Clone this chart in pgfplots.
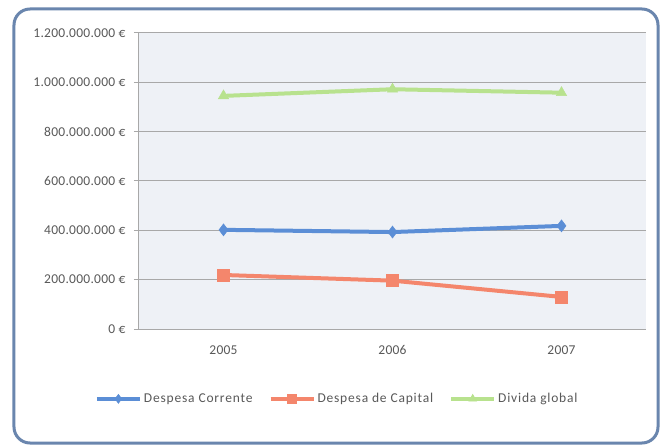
\documentclass[border=0pt]{standalone}
\usepackage{fontspec}
\setmainfont{Carlito}
\usepackage{pgfplots}
\pgfplotsset{compat=1.18}
\definecolor{frameblue}{HTML}{6A86AE}
\definecolor{plotbg}{HTML}{EEF1F6}
\definecolor{gridgrey}{HTML}{A8A8A8}
\definecolor{serblue}{HTML}{5B8ED6}
\definecolor{serorange}{HTML}{F4866C}
\definecolor{sergreen}{HTML}{B8E28E}
\definecolor{ticktext}{HTML}{595959}

\begin{document}
\begin{tikzpicture}[x=1pt,y=1pt]
\useasboundingbox (-139,-118) rectangle (528,329);
\fill[white] (-139,-118) rectangle (528,329);
\draw[frameblue, line width=3pt, rounded corners=16pt] (-125,-114) rectangle (519,320);
\begin{axis}[
    at={(0pt,0pt)}, anchor=south west,
    scale only axis,
    width=507pt, height=296pt,
    xmin=-0.5, xmax=2.5,
    ymin=0, ymax=1.2e9,
    scaled y ticks=false,
    xtick={0,1,2},
    xticklabels={2005,2006,2007},
    minor xtick={0.5,1.5},
    ytick={0,2e8,4e8,6e8,8e8,1e9,1.2e9},
    yticklabels={0 €,200.000.000 €,400.000.000 €,600.000.000 €,800.000.000 €,1.000.000.000 €,1.200.000.000 €},
    axis x line*=bottom,
    axis y line*=left,
    axis line style={gridgrey, line width=1pt, -},
    tick align=outside,
    major tick length=5pt,
    minor tick length=4pt,
    tick style={gridgrey, line width=1pt},
    xtick style={draw=none},
    minor x tick style={gridgrey, line width=1pt},
    ymajorgrids=true,
    grid style={gridgrey, line width=1pt},
    axis background/.style={fill=plotbg},
    ticklabel style={font=\fontsize{13.5}{15}\selectfont\addfontfeatures{LetterSpace=2}, text=ticktext},
    yticklabel style={xshift=-5pt},
    xticklabel style={yshift=-8pt},
    legend columns=3,
    legend style={at={(axis description cs:0.391,-0.236)}, anchor=center,
        draw=none, fill=none, font=\fontsize{13.5}{15}\selectfont\addfontfeatures{LetterSpace=6}, text=ticktext,
        /tikz/every even column/.append style={column sep=14pt}},
    legend image code/.code={
        \draw[mark repeat=2, mark phase=2, mark size=4.5pt, #1] plot coordinates {(0pt,0pt) (21.5pt,0pt) (43pt,0pt)};
    },
]
\addplot[serblue, line width=4pt, mark=diamond*, mark size=6pt, mark options={line width=0.5pt}]
    coordinates {(0,402e6) (1,393e6) (2,418e6)};
\addlegendentry{Despesa Corrente}
\addplot[serorange, line width=4pt, mark=square*, mark size=6pt, mark options={line width=0.5pt}]
    coordinates {(0,219e6) (1,196e6) (2,130e6)};
\addlegendentry{Despesa de Capital}
\addplot[sergreen, line width=4pt, mark=triangle*, mark size=6pt, mark options={line width=0.5pt}]
    coordinates {(0,945e6) (1,972e6) (2,958e6)};
\addlegendentry{Divida global}
\end{axis}
\end{tikzpicture}
\end{document}
